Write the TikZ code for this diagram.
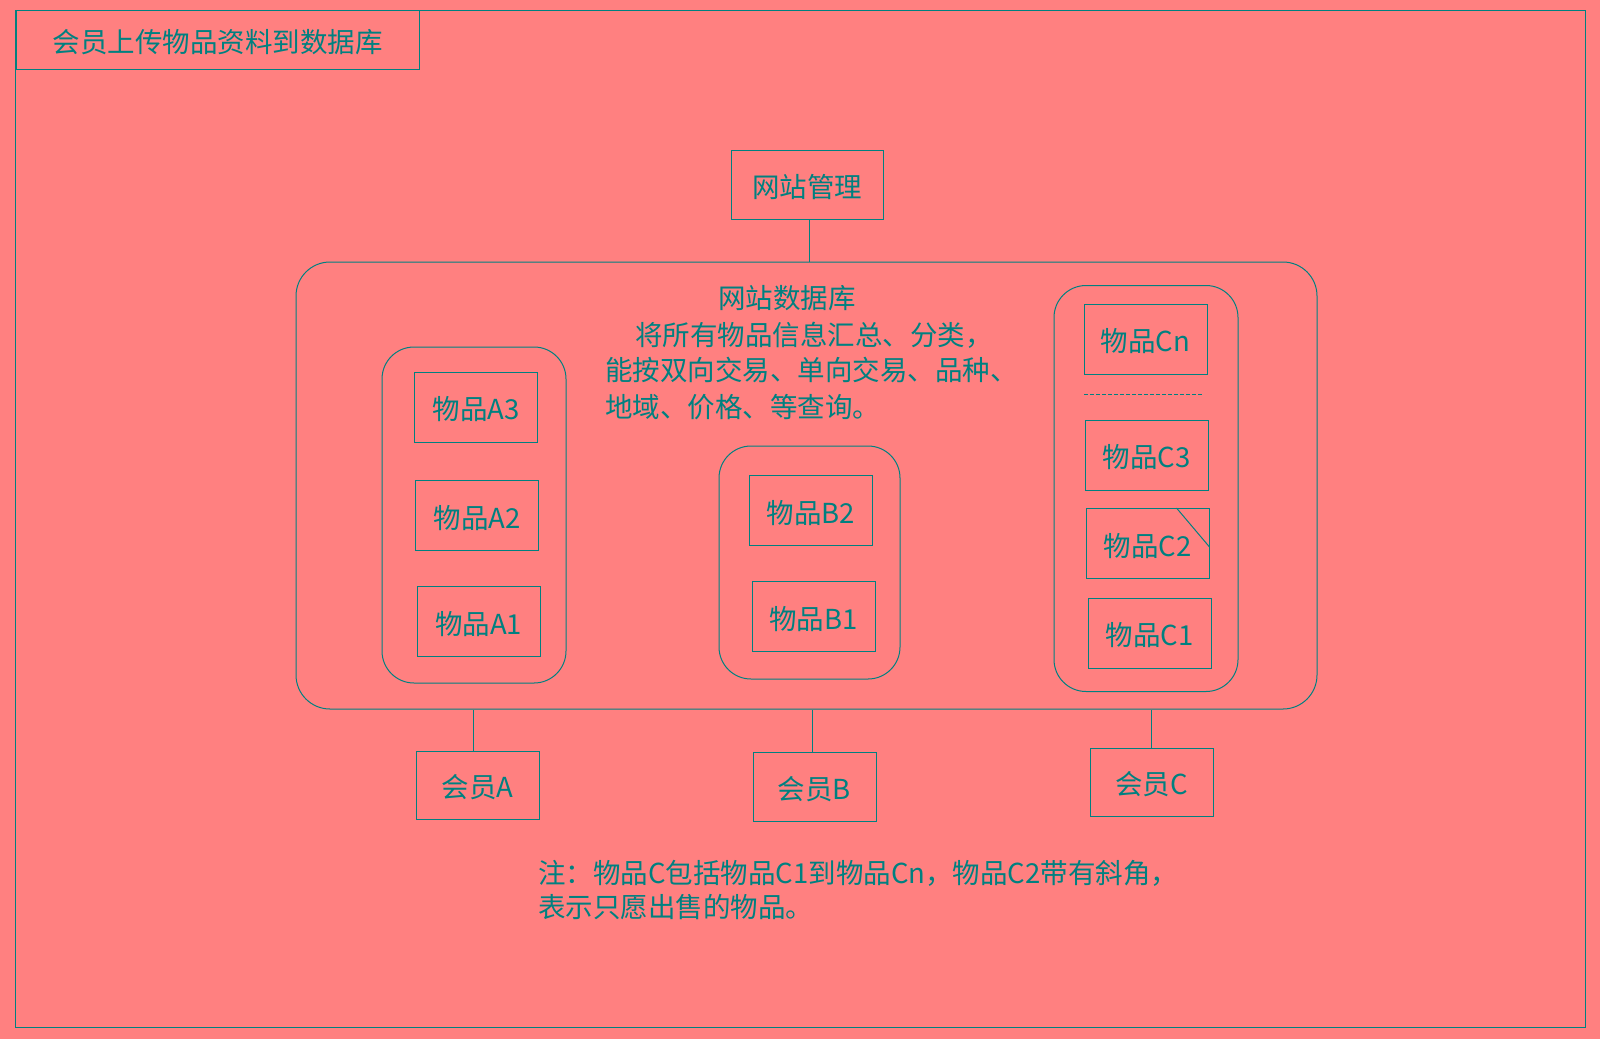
\documentclass[tikz,border=0pt]{standalone}
\usepackage{fontspec}
\newfontfamily\cjk{Noto Sans CJK SC}
\definecolor{bgsalmon}{RGB}{255,128,128}
\definecolor{tealline}{RGB}{0,128,128}
\begin{document}
\begin{tikzpicture}[x=1pt,y=-1pt,
  every node/.style={font=\cjk\fontsize{27.5}{32}\selectfont, text=tealline, inner sep=0pt},
  plainbox/.style={draw=tealline, line width=1pt, rectangle, text height=29pt, text depth=4pt},
  groupbox/.style={draw=tealline, line width=1pt, rectangle, rounded corners=32pt},
  itembox/.style={draw=tealline, line width=1pt, rectangle, minimum width=123pt, minimum height=70pt, text height=29pt, text depth=4pt},
  conn/.style={draw=tealline, line width=1pt},
  txt/.style={anchor=base west}
]
\fill[bgsalmon] (0,0) rectangle (1600,1039);
\useasboundingbox (0,0) rectangle (1600,1039);
% outer frame
\node[plainbox, minimum width=1570pt, minimum height=1017pt] (frame) at (800.5,519) {};
% title
\node[plainbox, minimum width=403pt, minimum height=59pt] (title) at (217.5,39.5) {会员上传物品资料到数据库};
% management
\node[plainbox, minimum width=152pt, minimum height=69pt] (mgmt) at (807,184.5) {网站管理};
% database
\node[groupbox, rounded corners=34pt, minimum width=1021pt, minimum height=447pt] (db) at (806.5,485.5) {};
\node[txt] (db1) at (718,308) {网站数据库};
\node[txt] (db2) at (635,345) {将所有物品信息汇总、分类，};
\node[txt] (db3) at (605,380) {能按双向交易、单向交易、品种、};
\node[txt] (db4) at (605,417) {地域、价格、等查询。};
% group A
\node[groupbox, minimum width=184pt, minimum height=336pt] (gA) at (474,515) {};
\node[itembox] (A3) at (476,407) {物品A3};
\node[itembox] (A2) at (477,515.5) {物品A2};
\node[itembox] (A1) at (478.5,621.5) {物品A1};
% group B
\node[groupbox, minimum width=181pt, minimum height=233pt] (gB) at (809.5,562.5) {};
\node[itembox] (B2) at (811,510.5) {物品B2};
\node[itembox] (B1) at (813.5,616.5) {物品B1};
% group C
\node[groupbox, minimum width=184pt, minimum height=406pt] (gC) at (1146,488.5) {};
\node[itembox] (Cn) at (1145.5,339) {物品Cn};
\coordinate (dl) at (1084,394);
\coordinate (dr) at (1203,394);
\draw[tealline, line width=0.8pt, dash pattern=on 4pt off 2pt] (dl) -- (dr);
\node[itembox] (C3) at (1146.5,455) {物品C3};
\node[itembox] (C2) at (1147.5,543.5) {物品C2};
\draw[conn] ([xshift=-33pt]C2.north east) -- ([yshift=-39pt]C2.north east);
\node[itembox] (C1) at (1149.5,633) {物品C1};
% members
\node[itembox, minimum height=68pt] (mA) at (477.5,785) {会员A};
\node[itembox, minimum height=69pt] (mB) at (814.5,786.5) {会员B};
\node[itembox, minimum height=68pt] (mC) at (1151.5,782) {会员C};
% connectors
\draw[conn] ([xshift=2pt]mgmt.south) -- ([xshift=2pt]mgmt.south |- db.north);
\draw[conn] ([xshift=-4pt]mA.north) -- ([xshift=-4pt]mA.north |- db.south);
\draw[conn] ([xshift=-2pt]mB.north) -- ([xshift=-2pt]mB.north |- db.south);
\draw[conn] (mC.north) -- (mC.north |- db.south);
% note
\node[txt] (note1) at (538,883) {注：物品C包括物品C1到物品Cn，物品C2带有斜角，};
\node[txt] (note2) at (538,917) {表示只愿出售的物品。};
\end{tikzpicture}
\end{document}
